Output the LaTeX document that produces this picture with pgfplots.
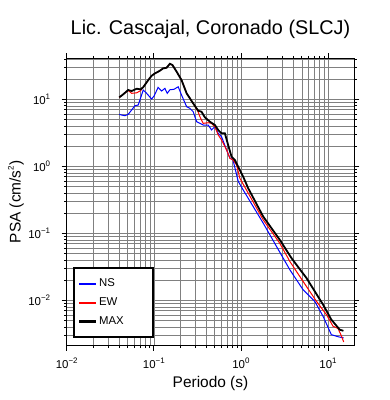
\documentclass[border=0pt]{standalone}
\usepackage{fontspec}
\setmainfont{Liberation Sans}
\usepackage{pgfplots}
\pgfplotsset{compat=1.18}
\newcommand\sups[1]{\raisebox{0.45em}{\fontsize{8}{9}\selectfont #1}}

\pgfplotstableread{
T A
0.0401 5.97
0.0428 5.83
0.0466 5.70
0.0508 5.97
0.0556 6.93
0.0607 8.03
0.0662 8.22
0.0724 11.6
0.0756 13.8
0.0827 12.3
0.0944 10.1
0.101 11.3
0.112 15.1
0.123 13.3
0.134 14.6
0.1425 12.3
0.153 13.9
0.170 14.1
0.1905 15.4
0.208 11.6
0.238 7.77
0.259 7.35
0.283 6.54
0.310 4.64
0.369 4.14
0.421 4.14
0.460 3.49
0.502 3.91
0.548 3.11
0.599 2.77
0.684 1.76
0.746 1.33
0.810 1.25
0.929 0.60
1.06 0.445
1.80 0.142
3.05 0.0427
3.64 0.0286
5.16 0.0144
7.04 0.00964
8.77 0.00575
10.9 0.00307
12.9 0.00287
15.1 0.00274
}\ns

\pgfplotstableread{
T A
0.0401 10.7
0.0446 11.9
0.0508 13.6
0.0556 12.3
0.0635 12.5
0.0706 13.5
0.0756 15.2
0.0863 19.4
0.0944 22.5
0.103 24.4
0.1154 26.4
0.128 29.0
0.140 29.6
0.153 34.0
0.164 32.4
0.183 25.8
0.208 19.4
0.238 12.3
0.283 8.71
0.323 6.5
0.338 5.51
0.369 4.38
0.421 4.48
0.460 4.38
0.502 3.91
0.548 2.94
0.599 2.47
0.684 1.76
0.746 1.32
0.810 1.25
0.891 1.05
0.971 0.665
1.80 0.159
2.79 0.071
3.47 0.0427
3.64 0.038
5.65 0.0161
7.36 0.00964
9.59 0.0061
11.4 0.0041
13.0 0.0038
14.3 0.0029
15.1 0.00239
}\ew

\pgfplotstableread{
T A
0.0401 10.7
0.0446 11.9
0.0508 13.8
0.0556 13.3
0.0635 14.4
0.0706 14.1
0.0756 15.2
0.0863 19.4
0.0944 22.5
0.103 24.4
0.1154 26.4
0.128 29.0
0.140 29.6
0.153 34.0
0.164 32.4
0.183 25.8
0.208 19.4
0.238 12.3
0.283 8.71
0.323 6.76
0.353 6.53
0.385 5.40
0.440 4.64
0.502 4.14
0.548 3.49
0.599 3.11
0.654 3.11
0.713 2.08
0.780 1.395
0.851 1.246
0.929 0.99
1.06 0.702
1.21 0.472
1.80 0.178
2.79 0.0800
3.80 0.0427
5.65 0.0215
8.77 0.0086
10.9 0.00514
13.6 0.00365
15.0 0.00350
}\mx

\begin{document}
\begin{tikzpicture}
\useasboundingbox (-66.7bp,-54.3bp) rectangle (323.3bp,345.7bp);
\begin{axis}[
  at={(0,0)}, anchor=south west,
  scale only axis, width=287.6bp, height=287.4bp,
  xmode=log, ymode=log,
  xmin=0.01, xmax=20, ymin=0.0021, ymax=41,
  xtick={0.01,0.1,1,10},
  xticklabels={10\sups{−2},10\sups{−1},10\sups{0},10\sups{1}},
  ytick={0.01,0.1,1,10},
  yticklabels={10\sups{−2},10\sups{−1},10\sups{0},10\sups{1}},
  minor xtick={0.02,0.03,0.04,0.05,0.06,0.07,0.08,0.09,0.2,0.3,0.4,0.5,0.6,0.7,0.8,0.9,2,3,4,5,6,7,8,9},
  minor ytick={0.003,0.004,0.005,0.006,0.007,0.008,0.009,0.02,0.03,0.04,0.05,0.06,0.07,0.08,0.09,0.2,0.3,0.4,0.5,0.6,0.7,0.8,0.9,2,3,4,5,6,7,8,9,20,30,40},
  grid=both,
  major grid style={black!50, line width=0.5bp},
  minor grid style={black!50, line width=0.5bp},
  axis line style={line width=1.5bp},
  tick align=outside,
  major tick length=5bp, minor tick length=2.5bp,
  tick style={black, line width=0.7bp},
  xtick pos=both, ytick pos=both,
  tick label style={font=\fontsize{11.5}{13}\selectfont},
  xticklabel style={anchor=base, yshift=-18bp},
  yticklabel style={anchor=east, xshift=-8bp},
  title={Lic. Cascajal, Coronado (SLCJ)},
  title style={at={(axis description cs:0.5,1.0637)}, anchor=base, font=\fontsize{19.9}{22}\selectfont},
  xlabel={Periodo (s)},
  xlabel style={at={(axis description cs:0.5,-0.1448)}, anchor=base, font=\fontsize{15.5}{17}\selectfont},
  ylabel={PSA (cm/s\sups{2})},
  ylabel style={at={(axis description cs:-0.16,0.5)}, anchor=base, font=\fontsize{15.5}{17}\selectfont},
  legend style={at={(axis description cs:0.023,0.028)}, anchor=south west,
    draw=black, line width=1.2bp, fill=white,
    font=\fontsize{11.4}{13}\selectfont, row sep=5.5bp,
    inner xsep=4bp, inner ysep=9bp},
  legend cell align=left,
  no markers,
]
\addplot[blue, line width=1bp, forget plot] table[x=T,y=A] {\ns};
\addplot[red, line width=1bp, forget plot] table[x=T,y=A] {\ew};
\addplot[black, line width=1.8bp, forget plot] table[x=T,y=A] {\mx};
\addlegendimage{legend image code/.code={\draw[blue, line width=2.2bp] (0bp,0bp) -- (17bp,0bp);}}
\addlegendentry{\makebox[48bp][l]{NS}}
\addlegendimage{legend image code/.code={\draw[red, line width=2.2bp] (0bp,0bp) -- (17bp,0bp);}}
\addlegendentry{\makebox[48bp][l]{EW}}
\addlegendimage{legend image code/.code={\draw[black, line width=2.2bp] (0bp,0bp) -- (17bp,0bp);}}
\addlegendentry{\makebox[48bp][l]{MAX}}
\end{axis}
\end{tikzpicture}
\end{document}
